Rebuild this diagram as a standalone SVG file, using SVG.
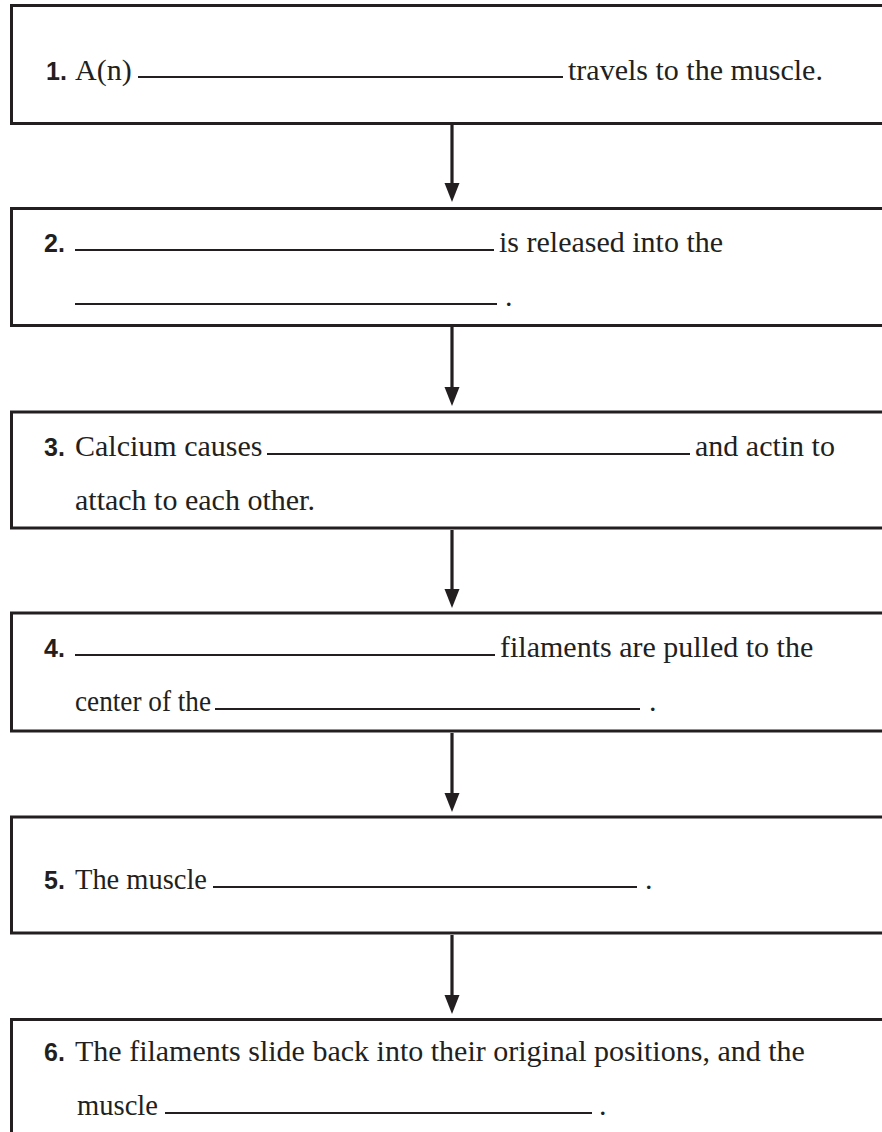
<svg xmlns="http://www.w3.org/2000/svg" width="882" height="1132" viewBox="0 0 882 1132">
<style>
.box{fill:#ffffff;stroke:#231f20;stroke-width:3}
.t{font-family:"Liberation Serif","Times New Roman","DejaVu Serif",serif;font-size:30px;fill:#231f20}
.n{font-family:"Liberation Sans",Arial,sans-serif;font-weight:bold;font-size:25px;fill:#231f20}
.u{stroke:#231f20;stroke-width:2.2}
.c{stroke:#231f20;stroke-width:3.2;fill:none}
</style>
<defs>
<marker id="ah" markerUnits="userSpaceOnUse" markerWidth="20" markerHeight="16" refX="1" refY="7.5" orient="auto" viewBox="0 0 20 15">
<path d="M0,0 L19,7.5 L0,15 Z" fill="#231f20"/>
</marker>
</defs>
<rect width="882" height="1132" fill="#ffffff"/>
<g id="connectors">
<line class="c" x1="452" y1="125" x2="452" y2="184" marker-end="url(#ah)"/>
<line class="c" x1="452" y1="327" x2="452" y2="388" marker-end="url(#ah)"/>
<line class="c" x1="452" y1="530" x2="452" y2="590" marker-end="url(#ah)"/>
<line class="c" x1="452" y1="733" x2="452" y2="794" marker-end="url(#ah)"/>
<line class="c" x1="452" y1="935" x2="452" y2="996" marker-end="url(#ah)"/>
</g>
<g id="step1">
<rect class="box" x="11.5" y="5.5" width="890" height="118"/>
<text class="n" x="46" y="80">1.</text>
<text class="t" x="75" y="80">A(n)</text>
<line class="u" x1="138" y1="77" x2="563" y2="77"/>
<text class="t" x="568" y="80">travels to the muscle.</text>
</g>
<g id="step2">
<rect class="box" x="11.5" y="208.5" width="890" height="117"/>
<text class="n" x="44" y="252">2.</text>
<line class="u" x1="75" y1="250" x2="494" y2="250"/>
<text class="t" x="499" y="252">is released into the</text>
<line class="u" x1="75" y1="304" x2="497" y2="304"/>
<text class="t" x="505" y="306">.</text>
</g>
<g id="step3">
<rect class="box" x="11.5" y="412" width="890" height="116"/>
<text class="n" x="44" y="456">3.</text>
<text class="t" x="75" y="456">Calcium causes</text>
<line class="u" x1="267" y1="454" x2="690" y2="454"/>
<text class="t" x="695" y="456">and actin to</text>
<text class="t" x="75" y="510">attach to each other.</text>
</g>
<g id="step4">
<rect class="box" x="11.5" y="613" width="890" height="118"/>
<text class="n" x="44" y="657">4.</text>
<line class="u" x1="75" y1="655" x2="495" y2="655"/>
<text class="t" x="500" y="657">filaments are pulled to the</text>
<text class="t" x="75" y="711" textLength="136" lengthAdjust="spacingAndGlyphs">center of the</text>
<line class="u" x1="215" y1="709" x2="640" y2="709"/>
<text class="t" x="649" y="711">.</text>
</g>
<g id="step5">
<rect class="box" x="11.5" y="817" width="890" height="116"/>
<text class="n" x="44" y="889">5.</text>
<text class="t" x="75" y="889" textLength="132" lengthAdjust="spacingAndGlyphs">The muscle</text>
<line class="u" x1="213" y1="887" x2="637" y2="887"/>
<text class="t" x="645" y="889">.</text>
</g>
<g id="step6">
<rect class="box" x="11.5" y="1019.5" width="890" height="130"/>
<text class="n" x="44" y="1061">6.</text>
<text class="t" x="75" y="1061">The filaments slide back into their original positions, and the</text>
<text class="t" x="77" y="1115" textLength="81" lengthAdjust="spacingAndGlyphs">muscle</text>
<line class="u" x1="165" y1="1113" x2="592" y2="1113"/>
<text class="t" x="599" y="1115">.</text>
</g>
</svg>
